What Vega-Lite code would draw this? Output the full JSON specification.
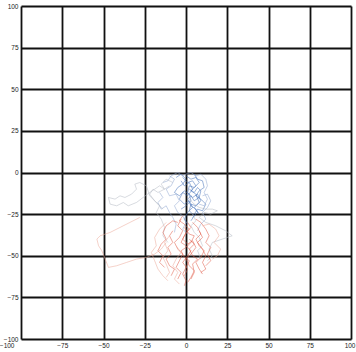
{
  "$schema": "https://vega.github.io/schema/vega-lite/v6.json",
  "autosize": {"type": "none"},
  "padding": {"left": 21, "top": 6, "right": 5, "bottom": 13},
  "width": 330,
  "height": 333,
  "background": "white",
  "config": {
    "view": {"stroke": null},
    "axis": {
      "grid": true, "gridColor": "#111", "gridWidth": 1.8, "gridOpacity": 1,
      "domain": false, "ticks": false, "labelFontSize": 6.5, "labelColor": "#222",
      "labelFont": "Liberation Sans", "labelPadding": 3, "title": null, "zindex": 1
    }
  },
  "data": {"values": [
    {"id":"B1","g":"blue","x":0,"y":-2},{"id":"B1","g":"blue","x":3,"y":-4},{"id":"B1","g":"blue","x":6,"y":-3},{"id":"B1","g":"blue","x":8,"y":-6},{"id":"B1","g":"blue","x":5,"y":-9},{"id":"B1","g":"blue","x":2,"y":-8},{"id":"B1","g":"blue","x":1,"y":-12},{"id":"B1","g":"blue","x":4,"y":-15},{"id":"B1","g":"blue","x":7,"y":-13},{"id":"B1","g":"blue","x":9,"y":-17},{"id":"B1","g":"blue","x":6,"y":-20},{"id":"B1","g":"blue","x":3,"y":-19},{"id":"B1","g":"blue","x":2,"y":-23},{"id":"B1","g":"blue","x":5,"y":-26},{"id":"B1","g":"blue","x":3,"y":-29},
    {"id":"B2","g":"blue","x":-3,"y":-5},{"id":"B2","g":"blue","x":-1,"y":-8},{"id":"B2","g":"blue","x":2,"y":-6},{"id":"B2","g":"blue","x":4,"y":-10},{"id":"B2","g":"blue","x":1,"y":-14},{"id":"B2","g":"blue","x":-2,"y":-12},{"id":"B2","g":"blue","x":-4,"y":-16},{"id":"B2","g":"blue","x":-1,"y":-19},{"id":"B2","g":"blue","x":2,"y":-17},{"id":"B2","g":"blue","x":4,"y":-21},{"id":"B2","g":"blue","x":1,"y":-24},{"id":"B2","g":"blue","x":-1,"y":-28},{"id":"B2","g":"blue","x":1,"y":-31},
    {"id":"B3","g":"blue","x":5,"y":-1},{"id":"B3","g":"blue","x":7,"y":-4},{"id":"B3","g":"blue","x":10,"y":-5},{"id":"B3","g":"blue","x":11,"y":-9},{"id":"B3","g":"blue","x":8,"y":-11},{"id":"B3","g":"blue","x":6,"y":-14},{"id":"B3","g":"blue","x":9,"y":-16},{"id":"B3","g":"blue","x":12,"y":-19},{"id":"B3","g":"blue","x":10,"y":-23},{"id":"B3","g":"blue","x":7,"y":-22},{"id":"B3","g":"blue","x":5,"y":-25},
    {"id":"B4","g":"blue","x":-6,"y":-3},{"id":"B4","g":"blue","x":-3,"y":-1},{"id":"B4","g":"blue","x":0,"y":-4},{"id":"B4","g":"blue","x":-2,"y":-7},{"id":"B4","g":"blue","x":-5,"y":-9},{"id":"B4","g":"blue","x":-7,"y":-12},{"id":"B4","g":"blue","x":-4,"y":-14},{"id":"B4","g":"blue","x":-1,"y":-11},{"id":"B4","g":"blue","x":2,"y":-13},{"id":"B4","g":"blue","x":3,"y":-17},{"id":"B4","g":"blue","x":0,"y":-20},{"id":"B4","g":"blue","x":-3,"y":-22},
    {"id":"B5","g":"blue","x":2,"y":-10},{"id":"B5","g":"blue","x":5,"y":-12},{"id":"B5","g":"blue","x":7,"y":-9},{"id":"B5","g":"blue","x":9,"y":-11},{"id":"B5","g":"blue","x":8,"y":-15},{"id":"B5","g":"blue","x":5,"y":-17},{"id":"B5","g":"blue","x":3,"y":-14},{"id":"B5","g":"blue","x":1,"y":-16},{"id":"B5","g":"blue","x":3,"y":-20},{"id":"B5","g":"blue","x":6,"y":-22},{"id":"B5","g":"blue","x":8,"y":-25},
    {"id":"B6","g":"blue","x":-2,"y":-3},{"id":"B6","g":"blue","x":1,"y":-6},{"id":"B6","g":"blue","x":4,"y":-5},{"id":"B6","g":"blue","x":6,"y":-8},{"id":"B6","g":"blue","x":3,"y":-11},{"id":"B6","g":"blue","x":6,"y":-13},{"id":"B6","g":"blue","x":8,"y":-18},{"id":"B6","g":"blue","x":5,"y":-21},{"id":"B6","g":"blue","x":7,"y":-24},{"id":"B6","g":"blue","x":4,"y":-27},
    {"id":"LB1","g":"lblue","x":-10,"y":-2},{"id":"LB1","g":"lblue","x":-7,"y":-4},{"id":"LB1","g":"lblue","x":-9,"y":-8},{"id":"LB1","g":"lblue","x":-12,"y":-10},{"id":"LB1","g":"lblue","x":-10,"y":-14},{"id":"LB1","g":"lblue","x":-6,"y":-13},{"id":"LB1","g":"lblue","x":-4,"y":-17},{"id":"LB1","g":"lblue","x":-7,"y":-20},{"id":"LB1","g":"lblue","x":-5,"y":-24},{"id":"LB1","g":"lblue","x":-2,"y":-26},{"id":"LB1","g":"lblue","x":0,"y":-30},{"id":"LB1","g":"lblue","x":-2,"y":-34},{"id":"LB1","g":"lblue","x":1,"y":-37},
    {"id":"LB2","g":"lblue","x":-14,"y":-6},{"id":"LB2","g":"lblue","x":-11,"y":-5},{"id":"LB2","g":"lblue","x":-9,"y":-2},{"id":"LB2","g":"lblue","x":-5,"y":0},{"id":"LB2","g":"lblue","x":-2,"y":-2},{"id":"LB2","g":"lblue","x":0,"y":-1},{"id":"LB2","g":"lblue","x":3,"y":0},{"id":"LB2","g":"lblue","x":6,"y":-2},{"id":"LB2","g":"lblue","x":9,"y":-1},{"id":"LB2","g":"lblue","x":12,"y":-4},{"id":"LB2","g":"lblue","x":13,"y":-8},{"id":"LB2","g":"lblue","x":11,"y":-12},{"id":"LB2","g":"lblue","x":13,"y":-16},{"id":"LB2","g":"lblue","x":11,"y":-20},{"id":"LB2","g":"lblue","x":8,"y":-19},
    {"id":"LB3","g":"lblue","x":-16,"y":-12},{"id":"LB3","g":"lblue","x":-14,"y":-15},{"id":"LB3","g":"lblue","x":-17,"y":-18},{"id":"LB3","g":"lblue","x":-15,"y":-22},{"id":"LB3","g":"lblue","x":-12,"y":-20},{"id":"LB3","g":"lblue","x":-10,"y":-24},{"id":"LB3","g":"lblue","x":-8,"y":-27},{"id":"LB3","g":"lblue","x":-6,"y":-31},{"id":"LB3","g":"lblue","x":-7,"y":-36},
    {"id":"LB4","g":"lblue","x":10,"y":-14},{"id":"LB4","g":"lblue","x":13,"y":-13},{"id":"LB4","g":"lblue","x":15,"y":-17},{"id":"LB4","g":"lblue","x":13,"y":-21},{"id":"LB4","g":"lblue","x":10,"y":-24},{"id":"LB4","g":"lblue","x":12,"y":-28},{"id":"LB4","g":"lblue","x":9,"y":-31},{"id":"LB4","g":"lblue","x":7,"y":-35},
    {"id":"G1","g":"gray","x":-14,"y":-22},{"id":"G1","g":"gray","x":-18,"y":-18},{"id":"G1","g":"gray","x":-22,"y":-14},{"id":"G1","g":"gray","x":-24,"y":-8},{"id":"G1","g":"gray","x":-28,"y":-6},{"id":"G1","g":"gray","x":-31,"y":-7},{"id":"G1","g":"gray","x":-30,"y":-10},{"id":"G1","g":"gray","x":-33,"y":-13},{"id":"G1","g":"gray","x":-37,"y":-15},{"id":"G1","g":"gray","x":-40,"y":-14},{"id":"G1","g":"gray","x":-43,"y":-16},{"id":"G1","g":"gray","x":-47,"y":-15},{"id":"G1","g":"gray","x":-46,"y":-19},{"id":"G1","g":"gray","x":-42,"y":-20},{"id":"G1","g":"gray","x":-38,"y":-18},{"id":"G1","g":"gray","x":-35,"y":-20},{"id":"G1","g":"gray","x":-30,"y":-18},{"id":"G1","g":"gray","x":-26,"y":-15},{"id":"G1","g":"gray","x":-22,"y":-12},{"id":"G1","g":"gray","x":-19,"y":-10},{"id":"G1","g":"gray","x":-16,"y":-8},{"id":"G1","g":"gray","x":-13,"y":-10},{"id":"G1","g":"gray","x":-10,"y":-8},
    {"id":"G2","g":"gray","x":2,"y":-16},{"id":"G2","g":"gray","x":5,"y":-19},{"id":"G2","g":"gray","x":8,"y":-21},{"id":"G2","g":"gray","x":12,"y":-22},{"id":"G2","g":"gray","x":16,"y":-22},{"id":"G2","g":"gray","x":19,"y":-23},{"id":"G2","g":"gray","x":15,"y":-25},{"id":"G2","g":"gray","x":11,"y":-24},{"id":"G2","g":"gray","x":8,"y":-27},{"id":"G2","g":"gray","x":12,"y":-30},{"id":"G2","g":"gray","x":18,"y":-32},{"id":"G2","g":"gray","x":24,"y":-35},{"id":"G2","g":"gray","x":28,"y":-38},{"id":"G2","g":"gray","x":22,"y":-40},{"id":"G2","g":"gray","x":16,"y":-42},{"id":"G2","g":"gray","x":14,"y":-46},{"id":"G2","g":"gray","x":16,"y":-50},{"id":"G2","g":"gray","x":13,"y":-53},
    {"id":"G3","g":"gray","x":-8,"y":-6},{"id":"G3","g":"gray","x":-12,"y":-4},{"id":"G3","g":"gray","x":-15,"y":-7},{"id":"G3","g":"gray","x":-13,"y":-10},{"id":"G3","g":"gray","x":-17,"y":-12},{"id":"G3","g":"gray","x":-20,"y":-10},{"id":"G3","g":"gray","x":-22,"y":-13},{"id":"G3","g":"gray","x":-19,"y":-17},{"id":"G3","g":"gray","x":-16,"y":-20},{"id":"G3","g":"gray","x":-18,"y":-24},{"id":"G3","g":"gray","x":-15,"y":-28},{"id":"G3","g":"gray","x":-13,"y":-33},{"id":"G3","g":"gray","x":-14,"y":-38},{"id":"G3","g":"gray","x":-11,"y":-42},
    {"id":"G4","g":"gray","x":4,"y":-25},{"id":"G4","g":"gray","x":6,"y":-29},{"id":"G4","g":"gray","x":3,"y":-32},{"id":"G4","g":"gray","x":5,"y":-36},{"id":"G4","g":"gray","x":8,"y":-39},{"id":"G4","g":"gray","x":10,"y":-44},{"id":"G4","g":"gray","x":7,"y":-47},{"id":"G4","g":"gray","x":9,"y":-52},
    {"id":"R1","g":"red","x":1,"y":-30},{"id":"R1","g":"red","x":3,"y":-33},{"id":"R1","g":"red","x":0,"y":-36},{"id":"R1","g":"red","x":-2,"y":-40},{"id":"R1","g":"red","x":1,"y":-43},{"id":"R1","g":"red","x":4,"y":-41},{"id":"R1","g":"red","x":6,"y":-45},{"id":"R1","g":"red","x":3,"y":-49},{"id":"R1","g":"red","x":0,"y":-52},{"id":"R1","g":"red","x":2,"y":-56},{"id":"R1","g":"red","x":5,"y":-59},{"id":"R1","g":"red","x":3,"y":-63},{"id":"R1","g":"red","x":1,"y":-66},
    {"id":"R2","g":"red","x":-3,"y":-28},{"id":"R2","g":"red","x":-5,"y":-32},{"id":"R2","g":"red","x":-2,"y":-35},{"id":"R2","g":"red","x":-4,"y":-39},{"id":"R2","g":"red","x":-7,"y":-42},{"id":"R2","g":"red","x":-5,"y":-46},{"id":"R2","g":"red","x":-2,"y":-49},{"id":"R2","g":"red","x":-4,"y":-53},{"id":"R2","g":"red","x":-6,"y":-57},{"id":"R2","g":"red","x":-3,"y":-60},{"id":"R2","g":"red","x":-5,"y":-64},
    {"id":"R3","g":"red","x":4,"y":-30},{"id":"R3","g":"red","x":7,"y":-33},{"id":"R3","g":"red","x":9,"y":-37},{"id":"R3","g":"red","x":6,"y":-40},{"id":"R3","g":"red","x":8,"y":-44},{"id":"R3","g":"red","x":11,"y":-47},{"id":"R3","g":"red","x":9,"y":-51},{"id":"R3","g":"red","x":6,"y":-54},{"id":"R3","g":"red","x":8,"y":-58},{"id":"R3","g":"red","x":10,"y":-61},
    {"id":"R4","g":"red","x":-1,"y":-33},{"id":"R4","g":"red","x":2,"y":-37},{"id":"R4","g":"red","x":5,"y":-38},{"id":"R4","g":"red","x":3,"y":-42},{"id":"R4","g":"red","x":0,"y":-45},{"id":"R4","g":"red","x":-3,"y":-47},{"id":"R4","g":"red","x":-1,"y":-51},{"id":"R4","g":"red","x":2,"y":-53},{"id":"R4","g":"red","x":0,"y":-57},{"id":"R4","g":"red","x":-2,"y":-61},{"id":"R4","g":"red","x":0,"y":-65},{"id":"R4","g":"red","x":-1,"y":-68},
    {"id":"R5","g":"red","x":-8,"y":-35},{"id":"R5","g":"red","x":-10,"y":-38},{"id":"R5","g":"red","x":-8,"y":-42},{"id":"R5","g":"red","x":-11,"y":-45},{"id":"R5","g":"red","x":-9,"y":-49},{"id":"R5","g":"red","x":-12,"y":-52},{"id":"R5","g":"red","x":-10,"y":-56},{"id":"R5","g":"red","x":-7,"y":-58},{"id":"R5","g":"red","x":-9,"y":-62},
    {"id":"R6","g":"red","x":6,"y":-28},{"id":"R6","g":"red","x":9,"y":-30},{"id":"R6","g":"red","x":12,"y":-34},{"id":"R6","g":"red","x":14,"y":-38},{"id":"R6","g":"red","x":12,"y":-42},{"id":"R6","g":"red","x":15,"y":-45},{"id":"R6","g":"red","x":13,"y":-49},{"id":"R6","g":"red","x":15,"y":-53},{"id":"R6","g":"red","x":12,"y":-56},
    {"id":"R7","g":"red","x":-5,"y":-30},{"id":"R7","g":"red","x":-8,"y":-29},{"id":"R7","g":"red","x":-12,"y":-32},{"id":"R7","g":"red","x":-14,"y":-36},{"id":"R7","g":"red","x":-12,"y":-40},{"id":"R7","g":"red","x":-15,"y":-43},{"id":"R7","g":"red","x":-17,"y":-47},{"id":"R7","g":"red","x":-14,"y":-50},{"id":"R7","g":"red","x":-16,"y":-54},{"id":"R7","g":"red","x":-13,"y":-57},
    {"id":"R8","g":"red","x":2,"y":-40},{"id":"R8","g":"red","x":5,"y":-43},{"id":"R8","g":"red","x":2,"y":-46},{"id":"R8","g":"red","x":4,"y":-50},{"id":"R8","g":"red","x":7,"y":-52},{"id":"R8","g":"red","x":4,"y":-55},{"id":"R8","g":"red","x":5,"y":-60},{"id":"R8","g":"red","x":3,"y":-64},
    {"id":"R9","g":"red","x":-2,"y":-26},{"id":"R9","g":"red","x":-4,"y":-29},{"id":"R9","g":"red","x":-1,"y":-31},{"id":"R9","g":"red","x":2,"y":-34},{"id":"R9","g":"red","x":-1,"y":-38},{"id":"R9","g":"red","x":-3,"y":-42},{"id":"R9","g":"red","x":0,"y":-44},{"id":"R9","g":"red","x":3,"y":-47},{"id":"R9","g":"red","x":1,"y":-50},{"id":"R9","g":"red","x":-2,"y":-54},{"id":"R9","g":"red","x":1,"y":-58},{"id":"R9","g":"red","x":-1,"y":-62},
    {"id":"R10","g":"red","x":8,"y":-35},{"id":"R10","g":"red","x":10,"y":-39},{"id":"R10","g":"red","x":7,"y":-42},{"id":"R10","g":"red","x":10,"y":-46},{"id":"R10","g":"red","x":12,"y":-50},{"id":"R10","g":"red","x":10,"y":-54},{"id":"R10","g":"red","x":12,"y":-58},{"id":"R10","g":"red","x":9,"y":-60},
    {"id":"S1","g":"salmon","x":-28,"y":-27},{"id":"S1","g":"salmon","x":-34,"y":-30},{"id":"S1","g":"salmon","x":-40,"y":-33},{"id":"S1","g":"salmon","x":-46,"y":-36},{"id":"S1","g":"salmon","x":-52,"y":-38},{"id":"S1","g":"salmon","x":-54,"y":-40},{"id":"S1","g":"salmon","x":-53,"y":-44},{"id":"S1","g":"salmon","x":-51,"y":-47},{"id":"S1","g":"salmon","x":-49,"y":-52},{"id":"S1","g":"salmon","x":-47,"y":-57},{"id":"S1","g":"salmon","x":-42,"y":-56},{"id":"S1","g":"salmon","x":-36,"y":-54},{"id":"S1","g":"salmon","x":-30,"y":-52},{"id":"S1","g":"salmon","x":-24,"y":-51},{"id":"S1","g":"salmon","x":-19,"y":-49},{"id":"S1","g":"salmon","x":-15,"y":-46},{"id":"S1","g":"salmon","x":-12,"y":-42},
    {"id":"S2","g":"salmon","x":-12,"y":-30},{"id":"S2","g":"salmon","x":-16,"y":-34},{"id":"S2","g":"salmon","x":-19,"y":-39},{"id":"S2","g":"salmon","x":-18,"y":-44},{"id":"S2","g":"salmon","x":-21,"y":-48},{"id":"S2","g":"salmon","x":-19,"y":-53},{"id":"S2","g":"salmon","x":-17,"y":-58},{"id":"S2","g":"salmon","x":-14,"y":-62},{"id":"S2","g":"salmon","x":-11,"y":-65},
    {"id":"S3","g":"salmon","x":10,"y":-32},{"id":"S3","g":"salmon","x":14,"y":-31},{"id":"S3","g":"salmon","x":18,"y":-34},{"id":"S3","g":"salmon","x":20,"y":-38},{"id":"S3","g":"salmon","x":17,"y":-42},{"id":"S3","g":"salmon","x":21,"y":-46},{"id":"S3","g":"salmon","x":19,"y":-50},{"id":"S3","g":"salmon","x":16,"y":-52},
    {"id":"S4","g":"salmon","x":-6,"y":-44},{"id":"S4","g":"salmon","x":-3,"y":-48},{"id":"S4","g":"salmon","x":-6,"y":-52},{"id":"S4","g":"salmon","x":-8,"y":-56},{"id":"S4","g":"salmon","x":-5,"y":-60},{"id":"S4","g":"salmon","x":-7,"y":-64},{"id":"S4","g":"salmon","x":-4,"y":-67},
    {"id":"S5","g":"salmon","x":-10,"y":-38},{"id":"S5","g":"salmon","x":-13,"y":-42},{"id":"S5","g":"salmon","x":-11,"y":-47},{"id":"S5","g":"salmon","x":-14,"y":-51},{"id":"S5","g":"salmon","x":-12,"y":-55},{"id":"S5","g":"salmon","x":-10,"y":-60},{"id":"S5","g":"salmon","x":-12,"y":-63}
  ]},
  "mark": {"type": "line", "strokeWidth": 0.8, "opacity": 0.65, "clip": true},
  "encoding": {
    "x": {"field": "x", "type": "quantitative", "scale": {"domain": [-100, 100]},
      "axis": {"values": [-100, -75, -50, -25, 0, 25, 50, 75, 100],
               "labelAlign": {"condition": [{"test": "datum.value == -100", "value": "right"}, {"test": "datum.value == 100", "value": "right"}], "value": "center"},
               "labelOffset": {"condition": [{"test": "datum.value == -100", "value": -7}, {"test": "datum.value == 100", "value": 4}], "value": 0}}},
    "y": {"field": "y", "type": "quantitative", "scale": {"domain": [-100, 100]},
      "axis": {"values": [-100, -75, -50, -25, 0, 25, 50, 75, 100]}},
    "detail": {"field": "id"},
    "order": {"value": null},
    "color": {"field": "g", "type": "nominal", "legend": null,
      "scale": {"domain": ["blue", "lblue", "gray", "red", "salmon"], "range": ["#3f6fb8", "#8fa7d0", "#b4b9c4", "#e05a48", "#eba898"]}}
  }
}
